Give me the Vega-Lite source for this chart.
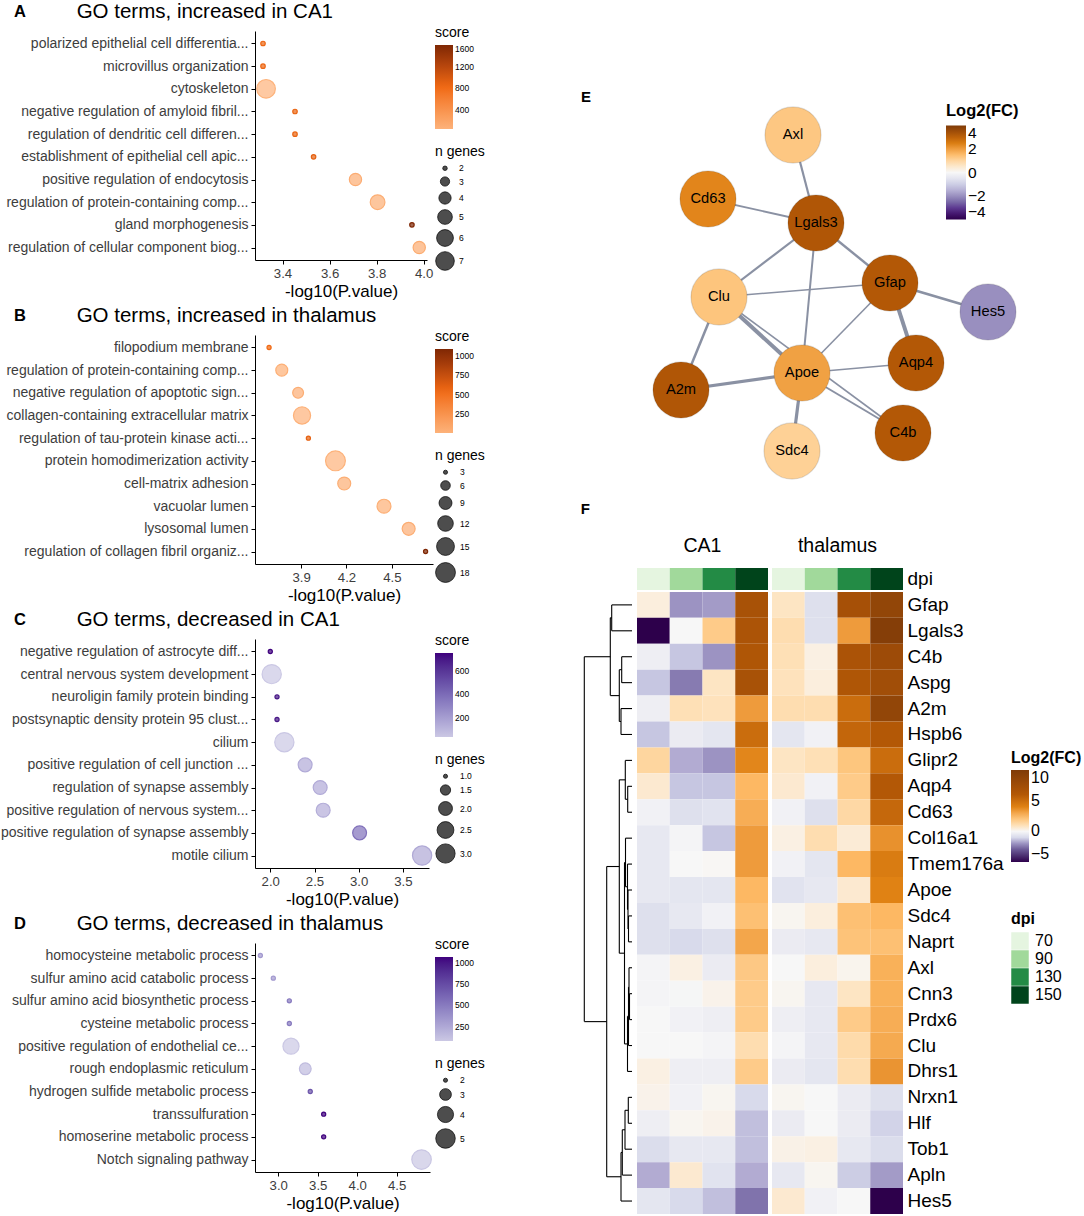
{
  "$schema": "https://vega.github.io/schema/vega-lite/v6.json",
  "padding": {"left": 0, "top": 2, "right": 0, "bottom": 0},
  "background": "white",
  "datasets": {
    "goA": [
      {"term": "polarized epithelial cell differentia...", "logp": 3.317, "n": 2, "score": 850},
      {"term": "microvillus organization", "logp": 3.317, "n": 2, "score": 850},
      {"term": "cytoskeleton", "logp": 3.33, "n": 7, "score": 44},
      {"term": "negative regulation of amyloid fibril...", "logp": 3.453, "n": 2, "score": 870},
      {"term": "regulation of dendritic cell differen...", "logp": 3.453, "n": 2, "score": 870},
      {"term": "establishment of epithelial cell apic...", "logp": 3.532, "n": 2, "score": 900},
      {"term": "positive regulation of endocytosis", "logp": 3.71, "n": 4, "score": 110},
      {"term": "regulation of protein-containing comp...", "logp": 3.804, "n": 5, "score": 90},
      {"term": "gland morphogenesis", "logp": 3.95, "n": 2, "score": 1600},
      {"term": "regulation of cellular component biog...", "logp": 3.981, "n": 4, "score": 130}
    ],
    "goB": [
      {"term": "filopodium membrane", "logp": 3.688, "n": 3, "score": 550},
      {"term": "regulation of protein-containing comp...", "logp": 3.772, "n": 8, "score": 40},
      {"term": "negative regulation of apoptotic sign...", "logp": 3.88, "n": 7, "score": 50},
      {"term": "collagen-containing extracellular matrix", "logp": 3.906, "n": 14, "score": 20},
      {"term": "regulation of tau-protein kinase acti...", "logp": 3.948, "n": 3, "score": 600},
      {"term": "protein homodimerization activity", "logp": 4.127, "n": 18, "score": 13},
      {"term": "cell-matrix adhesion", "logp": 4.185, "n": 9, "score": 45},
      {"term": "vacuolar lumen", "logp": 4.448, "n": 10, "score": 40},
      {"term": "lysosomal lumen", "logp": 4.611, "n": 9, "score": 50},
      {"term": "regulation of collagen fibril organiz...", "logp": 4.723, "n": 3, "score": 1085}
    ],
    "goC": [
      {"term": "negative regulation of astrocyte diff...", "logp": 2.0, "n": 1, "score": 751},
      {"term": "central nervous system development", "logp": 2.016, "n": 3, "score": 36},
      {"term": "neuroligin family protein binding", "logp": 2.076, "n": 1, "score": 700},
      {"term": "postsynaptic density protein 95 clust...", "logp": 2.076, "n": 1, "score": 700},
      {"term": "cilium", "logp": 2.159, "n": 3, "score": 40},
      {"term": "positive regulation of cell junction ...", "logp": 2.394, "n": 2, "score": 150},
      {"term": "regulation of synapse assembly", "logp": 2.564, "n": 2, "score": 150},
      {"term": "positive regulation of nervous system...", "logp": 2.598, "n": 2, "score": 140},
      {"term": "positive regulation of synapse assembly", "logp": 3.01, "n": 2, "score": 380},
      {"term": "motile cilium", "logp": 3.717, "n": 3, "score": 160}
    ],
    "goD": [
      {"term": "homocysteine metabolic process", "logp": 2.773, "n": 2, "score": 330},
      {"term": "sulfur amino acid catabolic process", "logp": 2.937, "n": 2, "score": 330},
      {"term": "sulfur amino acid biosynthetic process", "logp": 3.14, "n": 2, "score": 500},
      {"term": "cysteine metabolic process", "logp": 3.14, "n": 2, "score": 500},
      {"term": "positive regulation of endothelial ce...", "logp": 3.161, "n": 4, "score": 80},
      {"term": "rough endoplasmic reticulum", "logp": 3.342, "n": 3, "score": 150},
      {"term": "hydrogen sulfide metabolic process", "logp": 3.405, "n": 2, "score": 700},
      {"term": "transsulfuration", "logp": 3.575, "n": 2, "score": 1071},
      {"term": "homoserine metabolic process", "logp": 3.575, "n": 2, "score": 1071},
      {"term": "Notch signaling pathway", "logp": 4.815, "n": 5, "score": 90}
    ],
    "nodes": [
      {"id": "Axl", "x": 2.05, "y": 3.48, "fc": 1.3},
      {"id": "Cd63", "x": 1.2, "y": 2.84, "fc": 2.35},
      {"id": "Lgals3", "x": 2.28, "y": 2.6, "fc": 3.25},
      {"id": "Gfap", "x": 3.02, "y": 2.0, "fc": 3.2},
      {"id": "Clu", "x": 1.31, "y": 1.86, "fc": 1.35},
      {"id": "Hes5", "x": 4.0, "y": 1.71, "fc": -2.0},
      {"id": "Aqp4", "x": 3.28, "y": 1.2, "fc": 3.2},
      {"id": "Apoe", "x": 2.14, "y": 1.1, "fc": 1.95},
      {"id": "A2m", "x": 0.93, "y": 0.93, "fc": 3.25},
      {"id": "C4b", "x": 3.15, "y": 0.5, "fc": 3.2},
      {"id": "Sdc4", "x": 2.04, "y": 0.32, "fc": 1.1}
    ],
    "edges": [
      {"source": "Axl", "target": "Lgals3", "w": 2.2},
      {"source": "Cd63", "target": "Lgals3", "w": 1.8},
      {"source": "Lgals3", "target": "Clu", "w": 2.2},
      {"source": "Lgals3", "target": "Apoe", "w": 2.0},
      {"source": "Lgals3", "target": "Gfap", "w": 2.4},
      {"source": "Clu", "target": "Gfap", "w": 1.6},
      {"source": "Clu", "target": "Apoe", "w": 4.0},
      {"source": "Clu", "target": "C4b", "w": 1.6},
      {"source": "Clu", "target": "A2m", "w": 2.5},
      {"source": "A2m", "target": "Apoe", "w": 3.2},
      {"source": "Apoe", "target": "Gfap", "w": 1.6},
      {"source": "Apoe", "target": "Aqp4", "w": 1.4},
      {"source": "Apoe", "target": "C4b", "w": 2.0},
      {"source": "Apoe", "target": "Sdc4", "w": 3.2},
      {"source": "Gfap", "target": "Aqp4", "w": 4.0},
      {"source": "Gfap", "target": "Hes5", "w": 2.8}
    ],
    "dendro": [
      {"h1": 0, "h2": 20.3, "p1": 0, "p2": 0}, {"h1": 0, "h2": 20.3, "p1": 1, "p2": 1}, {"h1": 20.3, "h2": 20.3, "p1": 0, "p2": 1},
      {"h1": 0, "h2": 10.3, "p1": 2, "p2": 2}, {"h1": 0, "h2": 10.3, "p1": 3, "p2": 3}, {"h1": 10.3, "h2": 10.3, "p1": 2, "p2": 3},
      {"h1": 0, "h2": 11, "p1": 4, "p2": 4}, {"h1": 0, "h2": 11, "p1": 5, "p2": 5}, {"h1": 11, "h2": 11, "p1": 4, "p2": 5},
      {"h1": 10.3, "h2": 12.7, "p1": 2.5, "p2": 2.5}, {"h1": 11, "h2": 12.7, "p1": 4.5, "p2": 4.5}, {"h1": 12.7, "h2": 12.7, "p1": 2.5, "p2": 4.5},
      {"h1": 20.3, "h2": 21.7, "p1": 0.5, "p2": 0.5}, {"h1": 12.7, "h2": 21.7, "p1": 3.5, "p2": 3.5}, {"h1": 21.7, "h2": 21.7, "p1": 0.5, "p2": 3.5},
      {"h1": 0, "h2": 4.3, "p1": 7, "p2": 7}, {"h1": 0, "h2": 4.3, "p1": 8, "p2": 8}, {"h1": 4.3, "h2": 4.3, "p1": 7, "p2": 8},
      {"h1": 0, "h2": 6.7, "p1": 6, "p2": 6}, {"h1": 4.3, "h2": 6.7, "p1": 7.5, "p2": 7.5}, {"h1": 6.7, "h2": 6.7, "p1": 6, "p2": 7.5},
      {"h1": 0, "h2": 3.5, "p1": 12, "p2": 12}, {"h1": 0, "h2": 3.5, "p1": 13, "p2": 13}, {"h1": 3.5, "h2": 3.5, "p1": 12, "p2": 13},
      {"h1": 0, "h2": 4, "p1": 11, "p2": 11}, {"h1": 3.5, "h2": 4, "p1": 12.5, "p2": 12.5}, {"h1": 4, "h2": 4, "p1": 11, "p2": 12.5},
      {"h1": 0, "h2": 4.5, "p1": 10, "p2": 10}, {"h1": 4, "h2": 4.5, "p1": 11.75, "p2": 11.75}, {"h1": 4.5, "h2": 4.5, "p1": 10, "p2": 11.75},
      {"h1": 0, "h2": 6.5, "p1": 9, "p2": 9}, {"h1": 4.5, "h2": 6.5, "p1": 10.875, "p2": 10.875}, {"h1": 6.5, "h2": 6.5, "p1": 9, "p2": 10.875},
      {"h1": 0, "h2": 2.5, "p1": 15, "p2": 15}, {"h1": 0, "h2": 2.5, "p1": 16, "p2": 16}, {"h1": 2.5, "h2": 2.5, "p1": 15, "p2": 16},
      {"h1": 0, "h2": 3, "p1": 14, "p2": 14}, {"h1": 2.5, "h2": 3, "p1": 15.5, "p2": 15.5}, {"h1": 3, "h2": 3, "p1": 14, "p2": 15.5},
      {"h1": 3, "h2": 3.5, "p1": 14.75, "p2": 14.75}, {"h1": 0, "h2": 3.5, "p1": 17, "p2": 17}, {"h1": 3.5, "h2": 3.5, "p1": 14.75, "p2": 17},
      {"h1": 3.5, "h2": 4.5, "p1": 15.875, "p2": 15.875}, {"h1": 0, "h2": 4.5, "p1": 18, "p2": 18}, {"h1": 4.5, "h2": 4.5, "p1": 15.875, "p2": 18},
      {"h1": 6.5, "h2": 7.5, "p1": 9.938, "p2": 9.938}, {"h1": 4.5, "h2": 7.5, "p1": 16.938, "p2": 16.938}, {"h1": 7.5, "h2": 7.5, "p1": 9.938, "p2": 16.938},
      {"h1": 6.7, "h2": 12.7, "p1": 6.75, "p2": 6.75}, {"h1": 7.5, "h2": 12.7, "p1": 13.438, "p2": 13.438}, {"h1": 12.7, "h2": 12.7, "p1": 6.75, "p2": 13.438},
      {"h1": 0, "h2": 3.7, "p1": 19, "p2": 19}, {"h1": 0, "h2": 3.7, "p1": 20, "p2": 20}, {"h1": 3.7, "h2": 3.7, "p1": 19, "p2": 20},
      {"h1": 3.7, "h2": 7, "p1": 19.5, "p2": 19.5}, {"h1": 0, "h2": 7, "p1": 21, "p2": 21}, {"h1": 7, "h2": 7, "p1": 19.5, "p2": 21},
      {"h1": 7, "h2": 9.7, "p1": 20.25, "p2": 20.25}, {"h1": 0, "h2": 9.7, "p1": 22, "p2": 22}, {"h1": 9.7, "h2": 9.7, "p1": 20.25, "p2": 22},
      {"h1": 9.7, "h2": 11, "p1": 21.125, "p2": 21.125}, {"h1": 0, "h2": 11, "p1": 23, "p2": 23}, {"h1": 11, "h2": 11, "p1": 21.125, "p2": 23},
      {"h1": 12.7, "h2": 25.3, "p1": 10.094, "p2": 10.094}, {"h1": 11, "h2": 25.3, "p1": 22.063, "p2": 22.063}, {"h1": 25.3, "h2": 25.3, "p1": 10.094, "p2": 22.063},
      {"h1": 21.7, "h2": 47.7, "p1": 2, "p2": 2}, {"h1": 25.3, "h2": 47.7, "p1": 16.078, "p2": 16.078}, {"h1": 47.7, "h2": 47.7, "p1": 2, "p2": 16.078}
    ],
    "dpiAnno": [
      {"gene": "dpi", "dpi": 70}, {"gene": "dpi", "dpi": 90}, {"gene": "dpi", "dpi": 130}, {"gene": "dpi", "dpi": 150}
    ],
    "heat": [
      {"gene": "Gfap", "region": "CA1", "dpi": 70, "fc": 0.4}, {"gene": "Gfap", "region": "CA1", "dpi": 90, "fc": -2.0}, {"gene": "Gfap", "region": "CA1", "dpi": 130, "fc": -1.9}, {"gene": "Gfap", "region": "CA1", "dpi": 150, "fc": 6.8},
      {"gene": "Gfap", "region": "thalamus", "dpi": 70, "fc": 0.8}, {"gene": "Gfap", "region": "thalamus", "dpi": 90, "fc": -0.8}, {"gene": "Gfap", "region": "thalamus", "dpi": 130, "fc": 7.0}, {"gene": "Gfap", "region": "thalamus", "dpi": 150, "fc": 8.5},
      {"gene": "Lgals3", "region": "CA1", "dpi": 70, "fc": -5.0}, {"gene": "Lgals3", "region": "CA1", "dpi": 90, "fc": 0.0}, {"gene": "Lgals3", "region": "CA1", "dpi": 130, "fc": 1.8}, {"gene": "Lgals3", "region": "CA1", "dpi": 150, "fc": 6.5},
      {"gene": "Lgals3", "region": "thalamus", "dpi": 70, "fc": 1.1}, {"gene": "Lgals3", "region": "thalamus", "dpi": 90, "fc": -0.8}, {"gene": "Lgals3", "region": "thalamus", "dpi": 130, "fc": 3.3}, {"gene": "Lgals3", "region": "thalamus", "dpi": 150, "fc": 9.5},
      {"gene": "C4b", "region": "CA1", "dpi": 70, "fc": -0.3}, {"gene": "C4b", "region": "CA1", "dpi": 90, "fc": -1.3}, {"gene": "C4b", "region": "CA1", "dpi": 130, "fc": -2.0}, {"gene": "C4b", "region": "CA1", "dpi": 150, "fc": 6.3},
      {"gene": "C4b", "region": "thalamus", "dpi": 70, "fc": 1.0}, {"gene": "C4b", "region": "thalamus", "dpi": 90, "fc": 0.3}, {"gene": "C4b", "region": "thalamus", "dpi": 130, "fc": 6.6}, {"gene": "C4b", "region": "thalamus", "dpi": 150, "fc": 7.7},
      {"gene": "Aspg", "region": "CA1", "dpi": 70, "fc": -1.3}, {"gene": "Aspg", "region": "CA1", "dpi": 90, "fc": -2.3}, {"gene": "Aspg", "region": "CA1", "dpi": 130, "fc": 0.8}, {"gene": "Aspg", "region": "CA1", "dpi": 150, "fc": 6.8},
      {"gene": "Aspg", "region": "thalamus", "dpi": 70, "fc": 0.9}, {"gene": "Aspg", "region": "thalamus", "dpi": 90, "fc": 0.4}, {"gene": "Aspg", "region": "thalamus", "dpi": 130, "fc": 6.3}, {"gene": "Aspg", "region": "thalamus", "dpi": 150, "fc": 7.4},
      {"gene": "A2m", "region": "CA1", "dpi": 70, "fc": -0.3}, {"gene": "A2m", "region": "CA1", "dpi": 90, "fc": 1.0}, {"gene": "A2m", "region": "CA1", "dpi": 130, "fc": 0.9}, {"gene": "A2m", "region": "CA1", "dpi": 150, "fc": 3.3},
      {"gene": "A2m", "region": "thalamus", "dpi": 70, "fc": 1.1}, {"gene": "A2m", "region": "thalamus", "dpi": 90, "fc": 1.1}, {"gene": "A2m", "region": "thalamus", "dpi": 130, "fc": 5.0}, {"gene": "A2m", "region": "thalamus", "dpi": 150, "fc": 8.5},
      {"gene": "Hspb6", "region": "CA1", "dpi": 70, "fc": -1.3}, {"gene": "Hspb6", "region": "CA1", "dpi": 90, "fc": -0.4}, {"gene": "Hspb6", "region": "CA1", "dpi": 130, "fc": -0.6}, {"gene": "Hspb6", "region": "CA1", "dpi": 150, "fc": 5.0},
      {"gene": "Hspb6", "region": "thalamus", "dpi": 70, "fc": -0.6}, {"gene": "Hspb6", "region": "thalamus", "dpi": 90, "fc": -0.2}, {"gene": "Hspb6", "region": "thalamus", "dpi": 130, "fc": 5.3}, {"gene": "Hspb6", "region": "thalamus", "dpi": 150, "fc": 6.0},
      {"gene": "Glipr2", "region": "CA1", "dpi": 70, "fc": 1.4}, {"gene": "Glipr2", "region": "CA1", "dpi": 90, "fc": -1.7}, {"gene": "Glipr2", "region": "CA1", "dpi": 130, "fc": -2.0}, {"gene": "Glipr2", "region": "CA1", "dpi": 150, "fc": 3.9},
      {"gene": "Glipr2", "region": "thalamus", "dpi": 70, "fc": 0.8}, {"gene": "Glipr2", "region": "thalamus", "dpi": 90, "fc": 1.0}, {"gene": "Glipr2", "region": "thalamus", "dpi": 130, "fc": 2.0}, {"gene": "Glipr2", "region": "thalamus", "dpi": 150, "fc": 5.0},
      {"gene": "Aqp4", "region": "CA1", "dpi": 70, "fc": 0.6}, {"gene": "Aqp4", "region": "CA1", "dpi": 90, "fc": -1.3}, {"gene": "Aqp4", "region": "CA1", "dpi": 130, "fc": -1.3}, {"gene": "Aqp4", "region": "CA1", "dpi": 150, "fc": 2.5},
      {"gene": "Aqp4", "region": "thalamus", "dpi": 70, "fc": 0.6}, {"gene": "Aqp4", "region": "thalamus", "dpi": 90, "fc": -0.2}, {"gene": "Aqp4", "region": "thalamus", "dpi": 130, "fc": 1.8}, {"gene": "Aqp4", "region": "thalamus", "dpi": 150, "fc": 6.0},
      {"gene": "Cd63", "region": "CA1", "dpi": 70, "fc": -0.2}, {"gene": "Cd63", "region": "CA1", "dpi": 90, "fc": -0.8}, {"gene": "Cd63", "region": "CA1", "dpi": 130, "fc": -0.7}, {"gene": "Cd63", "region": "CA1", "dpi": 150, "fc": 2.8},
      {"gene": "Cd63", "region": "thalamus", "dpi": 70, "fc": -0.2}, {"gene": "Cd63", "region": "thalamus", "dpi": 90, "fc": -0.8}, {"gene": "Cd63", "region": "thalamus", "dpi": 130, "fc": 1.3}, {"gene": "Cd63", "region": "thalamus", "dpi": 150, "fc": 5.2},
      {"gene": "Col16a1", "region": "CA1", "dpi": 70, "fc": -0.5}, {"gene": "Col16a1", "region": "CA1", "dpi": 90, "fc": -0.1}, {"gene": "Col16a1", "region": "CA1", "dpi": 130, "fc": -1.3}, {"gene": "Col16a1", "region": "CA1", "dpi": 150, "fc": 3.3},
      {"gene": "Col16a1", "region": "thalamus", "dpi": 70, "fc": 0.3}, {"gene": "Col16a1", "region": "thalamus", "dpi": 90, "fc": 1.1}, {"gene": "Col16a1", "region": "thalamus", "dpi": 130, "fc": 0.5}, {"gene": "Col16a1", "region": "thalamus", "dpi": 150, "fc": 3.6},
      {"gene": "Tmem176a", "region": "CA1", "dpi": 70, "fc": -0.5}, {"gene": "Tmem176a", "region": "CA1", "dpi": 90, "fc": 0.0}, {"gene": "Tmem176a", "region": "CA1", "dpi": 130, "fc": 0.05}, {"gene": "Tmem176a", "region": "CA1", "dpi": 150, "fc": 3.3},
      {"gene": "Tmem176a", "region": "thalamus", "dpi": 70, "fc": -0.2}, {"gene": "Tmem176a", "region": "thalamus", "dpi": 90, "fc": -0.6}, {"gene": "Tmem176a", "region": "thalamus", "dpi": 130, "fc": 2.5}, {"gene": "Tmem176a", "region": "thalamus", "dpi": 150, "fc": 4.3},
      {"gene": "Apoe", "region": "CA1", "dpi": 70, "fc": -0.5}, {"gene": "Apoe", "region": "CA1", "dpi": 90, "fc": -0.6}, {"gene": "Apoe", "region": "CA1", "dpi": 130, "fc": -0.6}, {"gene": "Apoe", "region": "CA1", "dpi": 150, "fc": 2.5},
      {"gene": "Apoe", "region": "thalamus", "dpi": 70, "fc": -0.7}, {"gene": "Apoe", "region": "thalamus", "dpi": 90, "fc": -0.5}, {"gene": "Apoe", "region": "thalamus", "dpi": 130, "fc": 0.6}, {"gene": "Apoe", "region": "thalamus", "dpi": 150, "fc": 4.0},
      {"gene": "Sdc4", "region": "CA1", "dpi": 70, "fc": -0.8}, {"gene": "Sdc4", "region": "CA1", "dpi": 90, "fc": -0.5}, {"gene": "Sdc4", "region": "CA1", "dpi": 130, "fc": -0.2}, {"gene": "Sdc4", "region": "CA1", "dpi": 150, "fc": 2.2},
      {"gene": "Sdc4", "region": "thalamus", "dpi": 70, "fc": 0.1}, {"gene": "Sdc4", "region": "thalamus", "dpi": 90, "fc": 0.4}, {"gene": "Sdc4", "region": "thalamus", "dpi": 130, "fc": 2.2}, {"gene": "Sdc4", "region": "thalamus", "dpi": 150, "fc": 2.5},
      {"gene": "Naprt", "region": "CA1", "dpi": 70, "fc": -0.8}, {"gene": "Naprt", "region": "CA1", "dpi": 90, "fc": -1.0}, {"gene": "Naprt", "region": "CA1", "dpi": 130, "fc": -0.8}, {"gene": "Naprt", "region": "CA1", "dpi": 150, "fc": 3.0},
      {"gene": "Naprt", "region": "thalamus", "dpi": 70, "fc": -0.4}, {"gene": "Naprt", "region": "thalamus", "dpi": 90, "fc": -0.5}, {"gene": "Naprt", "region": "thalamus", "dpi": 130, "fc": 2.1}, {"gene": "Naprt", "region": "thalamus", "dpi": 150, "fc": 2.2},
      {"gene": "Axl", "region": "CA1", "dpi": 70, "fc": -0.1}, {"gene": "Axl", "region": "CA1", "dpi": 90, "fc": 0.3}, {"gene": "Axl", "region": "CA1", "dpi": 130, "fc": -0.4}, {"gene": "Axl", "region": "CA1", "dpi": 150, "fc": 1.9},
      {"gene": "Axl", "region": "thalamus", "dpi": 70, "fc": 0.0}, {"gene": "Axl", "region": "thalamus", "dpi": 90, "fc": 0.4}, {"gene": "Axl", "region": "thalamus", "dpi": 130, "fc": 0.15}, {"gene": "Axl", "region": "thalamus", "dpi": 150, "fc": 2.7},
      {"gene": "Cnn3", "region": "CA1", "dpi": 70, "fc": -0.1}, {"gene": "Cnn3", "region": "CA1", "dpi": 90, "fc": -0.05}, {"gene": "Cnn3", "region": "CA1", "dpi": 130, "fc": 0.2}, {"gene": "Cnn3", "region": "CA1", "dpi": 150, "fc": 1.8},
      {"gene": "Cnn3", "region": "thalamus", "dpi": 70, "fc": 0.1}, {"gene": "Cnn3", "region": "thalamus", "dpi": 90, "fc": -0.5}, {"gene": "Cnn3", "region": "thalamus", "dpi": 130, "fc": 0.8}, {"gene": "Cnn3", "region": "thalamus", "dpi": 150, "fc": 2.7},
      {"gene": "Prdx6", "region": "CA1", "dpi": 70, "fc": 0.0}, {"gene": "Prdx6", "region": "CA1", "dpi": 90, "fc": -0.2}, {"gene": "Prdx6", "region": "CA1", "dpi": 130, "fc": -0.3}, {"gene": "Prdx6", "region": "CA1", "dpi": 150, "fc": 1.8},
      {"gene": "Prdx6", "region": "thalamus", "dpi": 70, "fc": -0.3}, {"gene": "Prdx6", "region": "thalamus", "dpi": 90, "fc": -0.5}, {"gene": "Prdx6", "region": "thalamus", "dpi": 130, "fc": 1.8}, {"gene": "Prdx6", "region": "thalamus", "dpi": 150, "fc": 2.8},
      {"gene": "Clu", "region": "CA1", "dpi": 70, "fc": 0.0}, {"gene": "Clu", "region": "CA1", "dpi": 90, "fc": 0.0}, {"gene": "Clu", "region": "CA1", "dpi": 130, "fc": -0.1}, {"gene": "Clu", "region": "CA1", "dpi": 150, "fc": 1.1},
      {"gene": "Clu", "region": "thalamus", "dpi": 70, "fc": -0.1}, {"gene": "Clu", "region": "thalamus", "dpi": 90, "fc": -0.5}, {"gene": "Clu", "region": "thalamus", "dpi": 130, "fc": 1.2}, {"gene": "Clu", "region": "thalamus", "dpi": 150, "fc": 2.9},
      {"gene": "Dhrs1", "region": "CA1", "dpi": 70, "fc": 0.3}, {"gene": "Dhrs1", "region": "CA1", "dpi": 90, "fc": -0.3}, {"gene": "Dhrs1", "region": "CA1", "dpi": 130, "fc": -0.3}, {"gene": "Dhrs1", "region": "CA1", "dpi": 150, "fc": 1.8},
      {"gene": "Dhrs1", "region": "thalamus", "dpi": 70, "fc": -0.4}, {"gene": "Dhrs1", "region": "thalamus", "dpi": 90, "fc": -0.6}, {"gene": "Dhrs1", "region": "thalamus", "dpi": 130, "fc": 1.1}, {"gene": "Dhrs1", "region": "thalamus", "dpi": 150, "fc": 3.5},
      {"gene": "Nrxn1", "region": "CA1", "dpi": 70, "fc": 0.2}, {"gene": "Nrxn1", "region": "CA1", "dpi": 90, "fc": -0.2}, {"gene": "Nrxn1", "region": "CA1", "dpi": 130, "fc": 0.1}, {"gene": "Nrxn1", "region": "CA1", "dpi": 150, "fc": -1.0},
      {"gene": "Nrxn1", "region": "thalamus", "dpi": 70, "fc": 0.1}, {"gene": "Nrxn1", "region": "thalamus", "dpi": 90, "fc": 0.0}, {"gene": "Nrxn1", "region": "thalamus", "dpi": 130, "fc": -0.4}, {"gene": "Nrxn1", "region": "thalamus", "dpi": 150, "fc": -0.8},
      {"gene": "Hlf", "region": "CA1", "dpi": 70, "fc": -0.3}, {"gene": "Hlf", "region": "CA1", "dpi": 90, "fc": 0.1}, {"gene": "Hlf", "region": "CA1", "dpi": 130, "fc": 0.2}, {"gene": "Hlf", "region": "CA1", "dpi": 150, "fc": -1.4},
      {"gene": "Hlf", "region": "thalamus", "dpi": 70, "fc": -0.4}, {"gene": "Hlf", "region": "thalamus", "dpi": 90, "fc": 0.0}, {"gene": "Hlf", "region": "thalamus", "dpi": 130, "fc": -0.4}, {"gene": "Hlf", "region": "thalamus", "dpi": 150, "fc": -1.1},
      {"gene": "Tob1", "region": "CA1", "dpi": 70, "fc": -0.9}, {"gene": "Tob1", "region": "CA1", "dpi": 90, "fc": -0.5}, {"gene": "Tob1", "region": "CA1", "dpi": 130, "fc": -0.5}, {"gene": "Tob1", "region": "CA1", "dpi": 150, "fc": -1.4},
      {"gene": "Tob1", "region": "thalamus", "dpi": 70, "fc": 0.25}, {"gene": "Tob1", "region": "thalamus", "dpi": 90, "fc": 0.3}, {"gene": "Tob1", "region": "thalamus", "dpi": 130, "fc": -0.5}, {"gene": "Tob1", "region": "thalamus", "dpi": 150, "fc": -0.9},
      {"gene": "Apln", "region": "CA1", "dpi": 70, "fc": -1.7}, {"gene": "Apln", "region": "CA1", "dpi": 90, "fc": 0.6}, {"gene": "Apln", "region": "CA1", "dpi": 130, "fc": -0.7}, {"gene": "Apln", "region": "CA1", "dpi": 150, "fc": -1.7},
      {"gene": "Apln", "region": "thalamus", "dpi": 70, "fc": -0.5}, {"gene": "Apln", "region": "thalamus", "dpi": 90, "fc": 0.1}, {"gene": "Apln", "region": "thalamus", "dpi": 130, "fc": -1.2}, {"gene": "Apln", "region": "thalamus", "dpi": 150, "fc": -1.9},
      {"gene": "Hes5", "region": "CA1", "dpi": 70, "fc": -0.6}, {"gene": "Hes5", "region": "CA1", "dpi": 90, "fc": -1.0}, {"gene": "Hes5", "region": "CA1", "dpi": 130, "fc": -1.4}, {"gene": "Hes5", "region": "CA1", "dpi": 150, "fc": -2.4},
      {"gene": "Hes5", "region": "thalamus", "dpi": 70, "fc": 0.6}, {"gene": "Hes5", "region": "thalamus", "dpi": 90, "fc": -0.2}, {"gene": "Hes5", "region": "thalamus", "dpi": 130, "fc": 0.0}, {"gene": "Hes5", "region": "thalamus", "dpi": 150, "fc": -5.0}
    ]
  },
  "hconcat": [
    {
      "spacing": 6,
      "resolve": {"scale": {"fill": "independent", "stroke": "independent", "size": "independent"}, "legend": {"fill": "independent", "stroke": "independent", "size": "independent"}},
      "vconcat": [
        {
          "width": 172, "height": 229,
          "title": {"text": "A", "subtitle": "\u200b\u00a0\u00a0\u00a0\u00a0\u00a0\u00a0\u00a0\u00a0\u00a0\u00a0\u00a0GO terms, increased in CA1", "anchor": "start", "frame": "group", "dx": -241, "fontSize": 16.5, "fontWeight": "bold", "subtitleFontSize": 20.5, "subtitleColor": "black", "subtitleFont": "Liberation Sans", "subtitlePadding": -18, "offset": 2},
          "data": {"name": "goA"},
          "mark": {"type": "point", "filled": true, "opacity": 1, "fillOpacity": 0.7, "strokeOpacity": 1, "strokeWidth": 1.2},
          "encoding": {
            "y": {"field": "term", "type": "nominal", "sort": null, "scale": {"padding": 0.55}, "axis": {"title": null, "labelFontSize": 14, "labelColor": "#3d3d3d", "tickSize": 4, "labelPadding": 3, "labelLimit": 400}},
            "x": {"field": "logp", "type": "quantitative", "scale": {"domain": [3.283, 4.014], "nice": false, "zero": false}, "axis": {"values": [3.4, 3.6, 3.8, 4.0], "format": ".1f", "title": "-log10(P.value)", "titleFontSize": 17, "titleFontWeight": "normal", "titleColor": "black", "labelFontSize": 13.2, "labelColor": "#3d3d3d", "tickSize": 4, "labelPadding": 3, "titlePadding": 4}},
            "fill": {"field": "score", "type": "quantitative", "scale": {"domain": [44, 822, 1600], "range": ["#fdb27a", "#f16913", "#7f2704"]}, "legend": {"type": "gradient", "direction": "vertical", "title": "score", "orient": "none", "legendX": 180, "legendY": -5, "values": [400, 800, 1200, 1600], "format": "d", "gradientLength": 84, "gradientThickness": 18, "labelFontSize": 8.5, "titleFontSize": 14, "titleFontWeight": "normal", "titleColor": "black", "labelOverlap": false}},
            "stroke": {"field": "score", "type": "quantitative", "scale": {"domain": [43.9, 822.1, 1600.1], "range": ["#fdb27a", "#f16913", "#7f2704"]}, "legend": null},
            "size": {"field": "n", "type": "quantitative", "scale": {"domain": [2, 7], "range": [20, 346], "zero": false}, "legend": {"title": "n genes", "orient": "none", "legendX": 180, "legendY": 114, "values": [2, 3, 4, 5, 6, 7], "format": "d", "labelFontSize": 8.5, "titleFontSize": 14, "titleFontWeight": "normal", "titleColor": "black", "symbolFillColor": "#4d4d4d", "symbolStrokeColor": "#111111", "symbolStrokeWidth": 0.8}}
          }
        },
        {
          "width": 178, "height": 229,
          "title": {"text": "B", "subtitle": "\u200b\u00a0\u00a0\u00a0\u00a0\u00a0\u00a0\u00a0\u00a0\u00a0\u00a0\u00a0GO terms, increased in thalamus", "anchor": "start", "frame": "group", "dx": -241, "fontSize": 16.5, "fontWeight": "bold", "subtitleFontSize": 20.5, "subtitleColor": "black", "subtitleFont": "Liberation Sans", "subtitlePadding": -18, "offset": 2},
          "data": {"name": "goB"},
          "mark": {"type": "point", "filled": true, "opacity": 1, "fillOpacity": 0.7, "strokeOpacity": 1, "strokeWidth": 1.2},
          "encoding": {
            "y": {"field": "term", "type": "nominal", "sort": null, "scale": {"padding": 0.55}, "axis": {"title": null, "labelFontSize": 14, "labelColor": "#3d3d3d", "tickSize": 4, "labelPadding": 3, "labelLimit": 400}},
            "x": {"field": "logp", "type": "quantitative", "scale": {"domain": [3.595, 4.772], "nice": false, "zero": false}, "axis": {"values": [3.9, 4.2, 4.5], "format": ".1f", "title": "-log10(P.value)", "titleFontSize": 17, "titleFontWeight": "normal", "titleColor": "black", "labelFontSize": 13.2, "labelColor": "#3d3d3d", "tickSize": 4, "labelPadding": 3, "titlePadding": 4}},
            "fill": {"field": "score", "type": "quantitative", "scale": {"domain": [13, 549, 1085], "range": ["#fdb27a", "#f16913", "#7f2704"]}, "legend": {"type": "gradient", "direction": "vertical", "title": "score", "orient": "none", "legendX": 180, "legendY": -5, "values": [250, 500, 750, 1000], "format": "d", "gradientLength": 84, "gradientThickness": 18, "labelFontSize": 8.5, "titleFontSize": 14, "titleFontWeight": "normal", "titleColor": "black", "labelOverlap": false}},
            "stroke": {"field": "score", "type": "quantitative", "scale": {"domain": [12.9, 549.1, 1085.1], "range": ["#fdb27a", "#f16913", "#7f2704"]}, "legend": null},
            "size": {"field": "n", "type": "quantitative", "scale": {"domain": [3, 18], "range": [17, 394], "zero": false}, "legend": {"title": "n genes", "orient": "none", "legendX": 180, "legendY": 114, "values": [3, 6, 9, 12, 15, 18], "format": "d", "labelFontSize": 8.5, "titleFontSize": 14, "titleFontWeight": "normal", "titleColor": "black", "symbolFillColor": "#4d4d4d", "symbolStrokeColor": "#111111", "symbolStrokeWidth": 0.8}}
          }
        },
        {
          "width": 174, "height": 229,
          "title": {"text": "C", "subtitle": "\u200b\u00a0\u00a0\u00a0\u00a0\u00a0\u00a0\u00a0\u00a0\u00a0\u00a0\u00a0GO terms, decreased in CA1", "anchor": "start", "frame": "group", "dx": -241, "fontSize": 16.5, "fontWeight": "bold", "subtitleFontSize": 20.5, "subtitleColor": "black", "subtitleFont": "Liberation Sans", "subtitlePadding": -18, "offset": 2},
          "data": {"name": "goC"},
          "mark": {"type": "point", "filled": true, "opacity": 1, "fillOpacity": 0.7, "strokeOpacity": 1, "strokeWidth": 1.2},
          "encoding": {
            "y": {"field": "term", "type": "nominal", "sort": null, "scale": {"padding": 0.55}, "axis": {"title": null, "labelFontSize": 14, "labelColor": "#3d3d3d", "tickSize": 4, "labelPadding": 3, "labelLimit": 400}},
            "x": {"field": "logp", "type": "quantitative", "scale": {"domain": [1.827, 3.795], "nice": false, "zero": false}, "axis": {"values": [2.0, 2.5, 3.0, 3.5], "format": ".1f", "title": "-log10(P.value)", "titleFontSize": 17, "titleFontWeight": "normal", "titleColor": "black", "labelFontSize": 13.2, "labelColor": "#3d3d3d", "tickSize": 4, "labelPadding": 3, "titlePadding": 4}},
            "fill": {"field": "score", "type": "quantitative", "scale": {"domain": [36, 393, 751], "range": ["#cbc8e4", "#7d6db8", "#3f007d"]}, "legend": {"type": "gradient", "direction": "vertical", "title": "score", "orient": "none", "legendX": 180, "legendY": -5, "values": [200, 400, 600], "format": "d", "gradientLength": 84, "gradientThickness": 18, "labelFontSize": 8.5, "titleFontSize": 14, "titleFontWeight": "normal", "titleColor": "black", "labelOverlap": false}},
            "stroke": {"field": "score", "type": "quantitative", "scale": {"domain": [35.9, 393.1, 751.1], "range": ["#cbc8e4", "#7d6db8", "#3f007d"]}, "legend": null},
            "size": {"field": "n", "type": "quantitative", "scale": {"domain": [1, 3], "range": [17, 370], "zero": false}, "legend": {"title": "n genes", "orient": "none", "legendX": 180, "legendY": 114, "values": [1, 1.5, 2, 2.5, 3], "format": ".1f", "labelFontSize": 8.5, "titleFontSize": 14, "titleFontWeight": "normal", "titleColor": "black", "symbolFillColor": "#4d4d4d", "symbolStrokeColor": "#111111", "symbolStrokeWidth": 0.8}}
          }
        },
        {
          "width": 175, "height": 229,
          "title": {"text": "D", "subtitle": "\u200b\u00a0\u00a0\u00a0\u00a0\u00a0\u00a0\u00a0\u00a0\u00a0\u00a0\u00a0GO terms, decreased in thalamus", "anchor": "start", "frame": "group", "dx": -241, "fontSize": 16.5, "fontWeight": "bold", "subtitleFontSize": 20.5, "subtitleColor": "black", "subtitleFont": "Liberation Sans", "subtitlePadding": -18, "offset": 2},
          "data": {"name": "goD"},
          "mark": {"type": "point", "filled": true, "opacity": 1, "fillOpacity": 0.7, "strokeOpacity": 1, "strokeWidth": 1.2},
          "encoding": {
            "y": {"field": "term", "type": "nominal", "sort": null, "scale": {"padding": 0.55}, "axis": {"title": null, "labelFontSize": 14, "labelColor": "#3d3d3d", "tickSize": 4, "labelPadding": 3, "labelLimit": 400}},
            "x": {"field": "logp", "type": "quantitative", "scale": {"domain": [2.705, 4.922], "nice": false, "zero": false}, "axis": {"values": [3.0, 3.5, 4.0, 4.5], "format": ".1f", "title": "-log10(P.value)", "titleFontSize": 17, "titleFontWeight": "normal", "titleColor": "black", "labelFontSize": 13.2, "labelColor": "#3d3d3d", "tickSize": 4, "labelPadding": 3, "titlePadding": 4}},
            "fill": {"field": "score", "type": "quantitative", "scale": {"domain": [80, 575, 1071], "range": ["#cbc8e4", "#7d6db8", "#3f007d"]}, "legend": {"type": "gradient", "direction": "vertical", "title": "score", "orient": "none", "legendX": 180, "legendY": -5, "values": [250, 500, 750, 1000], "format": "d", "gradientLength": 84, "gradientThickness": 18, "labelFontSize": 8.5, "titleFontSize": 14, "titleFontWeight": "normal", "titleColor": "black", "labelOverlap": false}},
            "stroke": {"field": "score", "type": "quantitative", "scale": {"domain": [79.9, 575.1, 1071.1], "range": ["#cbc8e4", "#7d6db8", "#3f007d"]}, "legend": null},
            "size": {"field": "n", "type": "quantitative", "scale": {"domain": [2, 5], "range": [17, 380], "zero": false}, "legend": {"title": "n genes", "orient": "none", "legendX": 180, "legendY": 114, "values": [2, 3, 4, 5], "format": "d", "labelFontSize": 8.5, "titleFontSize": 14, "titleFontWeight": "normal", "titleColor": "black", "symbolFillColor": "#4d4d4d", "symbolStrokeColor": "#111111", "symbolStrokeWidth": 0.8}}
          }
        }
      ]
    },
    {
      "spacing": 18,
      "resolve": {"scale": {"fill": "independent", "stroke": "independent", "size": "independent", "strokeWidth": "independent"}, "legend": {"fill": "independent"}},
      "vconcat": [
        {
          "width": 452, "height": 452,
          "title": {"text": "E", "anchor": "start", "frame": "group", "dx": -3, "offset": -86, "baseline": "alphabetic", "fontSize": 15, "fontWeight": "bold"},
          "layer": [
            {
              "data": {"name": "edges"},
              "transform": [
                {"lookup": "source", "from": {"data": {"name": "nodes"}, "key": "id", "fields": ["x", "y"]}, "as": ["sx", "sy"]},
                {"lookup": "target", "from": {"data": {"name": "nodes"}, "key": "id", "fields": ["x", "y"]}, "as": ["tx", "ty"]}
              ],
              "mark": {"type": "rule", "color": "#8a91a3"},
              "encoding": {
                "x": {"field": "sx", "type": "quantitative", "scale": {"domain": [-0.04, 4.48], "nice": false, "zero": false}, "axis": null},
                "y": {"field": "sy", "type": "quantitative", "scale": {"domain": [0, 4.52], "nice": false, "zero": false}, "axis": null},
                "x2": {"field": "tx"},
                "y2": {"field": "ty"},
                "strokeWidth": {"field": "w", "type": "quantitative", "scale": {"domain": [1, 4], "range": [1, 4]}, "legend": null}
              }
            },
            {
              "data": {"name": "nodes"},
              "mark": {"type": "circle", "opacity": 1, "stroke": "#000000", "strokeOpacity": 0.12, "strokeWidth": 1.2},
              "encoding": {
                "x": {"field": "x", "type": "quantitative", "scale": {"domain": [-0.04, 4.48], "nice": false, "zero": false}, "axis": null},
                "y": {"field": "y", "type": "quantitative", "scale": {"domain": [0, 4.52], "nice": false, "zero": false}, "axis": null},
                "size": {"value": 3150},
                "fill": {"field": "fc", "type": "quantitative",
                  "scale": {"domain": [-4, -3.2, -2.4, -1.6, -0.8, 0, 0.8, 1.6, 2.4, 3.2, 4], "range": ["#2d004b", "#542788", "#8073ac", "#b2abd2", "#d8daeb", "#f7f7f7", "#fee0b6", "#fdb863", "#e08214", "#b35806", "#7f3b08"]},
                  "legend": {"title": "Log2(FC)", "orient": "none", "legendX": 362, "legendY": 72, "gradientLength": 94, "gradientThickness": 20, "values": [4, 2, 0, -2, -4], "labelFontSize": 15.5, "labelColor": "black", "titleFontSize": 16.5, "titleFontWeight": "bold", "titleColor": "black", "labelOverlap": false, "titlePadding": 6}}
              }
            },
            {
              "data": {"name": "nodes"},
              "mark": {"type": "text", "fontSize": 14.7, "color": "black"},
              "encoding": {
                "x": {"field": "x", "type": "quantitative"},
                "y": {"field": "y", "type": "quantitative"},
                "text": {"field": "id"}
              }
            }
          ]
        },
        {
          "title": {"text": "F", "anchor": "start", "dx": -3, "fontSize": 15, "fontWeight": "bold", "baseline": "alphabetic", "offset": 7},
          "spacing": 4,
          "resolve": {"scale": {"fill": "independent"}, "legend": {"fill": "independent"}},
          "hconcat": [
            {
              "width": 48, "height": 648,
              "title": {"text": "\u00a0", "fontSize": 19.5, "fontWeight": "normal", "baseline": "alphabetic", "offset": -5},
              "data": {"name": "dendro"},
              "mark": {"type": "rule", "color": "black", "strokeWidth": 1.1},
              "encoding": {
                "x": {"field": "h1", "type": "quantitative", "scale": {"domain": [0, 48], "reverse": true, "nice": false, "zero": false}, "axis": null},
                "x2": {"field": "h2"},
                "y": {"field": "p1", "type": "quantitative", "scale": {"domain": [-1.5, 23.5], "reverse": true, "nice": false, "zero": false}, "axis": null},
                "y2": {"field": "p2"}
              }
            },
            {
              "width": 131, "height": 648,
              "title": {"text": "CA1", "anchor": "middle", "fontSize": 19.5, "fontWeight": "normal", "baseline": "alphabetic", "offset": -5},
              "resolve": {"scale": {"fill": "independent"}},
              "layer": [
                {
                  "data": {"name": "dpiAnno"},
                  "mark": {"type": "rect", "height": {"band": 0.85}},
                  "encoding": {
                    "x": {"field": "dpi", "type": "ordinal", "scale": {"domain": [70, 90, 130, 150], "paddingInner": 0, "paddingOuter": 0}, "axis": null},
                    "y": {"field": "gene", "type": "nominal", "scale": {"domain": ["dpi", "Gfap", "Lgals3", "C4b", "Aspg", "A2m", "Hspb6", "Glipr2", "Aqp4", "Cd63", "Col16a1", "Tmem176a", "Apoe", "Sdc4", "Naprt", "Axl", "Cnn3", "Prdx6", "Clu", "Dhrs1", "Nrxn1", "Hlf", "Tob1", "Apln", "Hes5"], "paddingInner": 0, "paddingOuter": 0}, "axis": null},
                    "fill": {"field": "dpi", "type": "ordinal", "scale": {"domain": [70, 90, 130, 150], "range": ["#e5f5e0", "#a1d99b", "#238b45", "#00441b"]}, "legend": null}
                  }
                },
                {
                  "data": {"name": "heat"},
                  "transform": [{"filter": "datum.region === 'CA1'"}],
                  "mark": {"type": "rect"},
                  "encoding": {
                    "x": {"field": "dpi", "type": "ordinal", "scale": {"domain": [70, 90, 130, 150], "paddingInner": 0, "paddingOuter": 0}, "axis": null},
                    "y": {"field": "gene", "type": "nominal", "scale": {"domain": ["dpi", "Gfap", "Lgals3", "C4b", "Aspg", "A2m", "Hspb6", "Glipr2", "Aqp4", "Cd63", "Col16a1", "Tmem176a", "Apoe", "Sdc4", "Naprt", "Axl", "Cnn3", "Prdx6", "Clu", "Dhrs1", "Nrxn1", "Hlf", "Tob1", "Apln", "Hes5"], "paddingInner": 0, "paddingOuter": 0}, "axis": null},
                    "fill": {"field": "fc", "type": "quantitative", "scale": {"domain": [-5, -2.4, -1.7, -1, 0, 1, 2.5, 4, 6, 10], "range": ["#2d004b", "#8073ac", "#b2abd2", "#d8daeb", "#f7f7f7", "#fee0b6", "#fdb863", "#e08214", "#b35806", "#7f3b08"]}, "legend": null}
                  }
                }
              ]
            },
            {
              "width": 131, "height": 648,
              "title": {"text": "thalamus", "anchor": "middle", "fontSize": 19.5, "fontWeight": "normal", "baseline": "alphabetic", "offset": -5},
              "resolve": {"scale": {"fill": "independent"}, "legend": {"fill": "independent"}},
              "layer": [
                {
                  "data": {"name": "dpiAnno"},
                  "mark": {"type": "rect", "height": {"band": 0.85}},
                  "encoding": {
                    "x": {"field": "dpi", "type": "ordinal", "scale": {"domain": [70, 90, 130, 150], "paddingInner": 0, "paddingOuter": 0}, "axis": null},
                    "y": {"field": "gene", "type": "nominal", "scale": {"domain": ["dpi", "Gfap", "Lgals3", "C4b", "Aspg", "A2m", "Hspb6", "Glipr2", "Aqp4", "Cd63", "Col16a1", "Tmem176a", "Apoe", "Sdc4", "Naprt", "Axl", "Cnn3", "Prdx6", "Clu", "Dhrs1", "Nrxn1", "Hlf", "Tob1", "Apln", "Hes5"], "paddingInner": 0, "paddingOuter": 0}, "axis": {"orient": "right", "title": null, "domain": false, "ticks": false, "labelFontSize": 19, "labelColor": "black", "labelPadding": 4}},
                    "fill": {"field": "dpi", "type": "ordinal", "scale": {"domain": [70, 90, 130, 150], "range": ["#e5f5e0", "#a1d99b", "#238b45", "#00441b"]}, "legend": {"title": "dpi", "orient": "none", "legendX": 239, "legendY": 345, "symbolType": "square", "symbolSize": 306, "symbolStrokeWidth": 0, "labelFontSize": 16, "labelColor": "black", "titleFontSize": 16, "titleFontWeight": "bold", "titleColor": "black", "rowPadding": 0, "labelOffset": 6}}
                  }
                },
                {
                  "data": {"name": "heat"},
                  "transform": [{"filter": "datum.region === 'thalamus'"}],
                  "mark": {"type": "rect"},
                  "encoding": {
                    "x": {"field": "dpi", "type": "ordinal", "scale": {"domain": [70, 90, 130, 150], "paddingInner": 0, "paddingOuter": 0}, "axis": null},
                    "y": {"field": "gene", "type": "nominal", "scale": {"domain": ["dpi", "Gfap", "Lgals3", "C4b", "Aspg", "A2m", "Hspb6", "Glipr2", "Aqp4", "Cd63", "Col16a1", "Tmem176a", "Apoe", "Sdc4", "Naprt", "Axl", "Cnn3", "Prdx6", "Clu", "Dhrs1", "Nrxn1", "Hlf", "Tob1", "Apln", "Hes5"], "paddingInner": 0, "paddingOuter": 0}, "axis": {"orient": "right", "title": null, "domain": false, "ticks": false, "labelFontSize": 19, "labelColor": "black", "labelPadding": 4}},
                    "fill": {"field": "fc", "type": "quantitative", "scale": {"domain": [-5, -2.4, -1.7, -1, 0, 1, 2.5, 4, 6, 10], "range": ["#2d004b", "#8073ac", "#b2abd2", "#d8daeb", "#f7f7f7", "#fee0b6", "#fdb863", "#e08214", "#b35806", "#7f3b08"]}, "legend": {"title": "Log2(FC)", "orient": "none", "legendX": 239, "legendY": 184, "gradientLength": 92, "gradientThickness": 18, "values": [10, 5, 0, -5], "labelFontSize": 16, "labelColor": "black", "titleFontSize": 16, "titleFontWeight": "bold", "titleColor": "black", "labelOverlap": false, "titlePadding": 4}}
                  }
                }
              ]
            }
          ]
        }
      ]
    }
  ],
  "spacing": 95,
  "resolve": {"scale": {"fill": "independent", "stroke": "independent", "size": "independent", "strokeWidth": "independent"}, "legend": {"fill": "independent", "stroke": "independent", "size": "independent"}},
  "config": {
    "font": "Liberation Sans",
    "view": {"stroke": null},
    "axis": {"grid": false, "domainColor": "black", "tickColor": "black", "labelFont": "Liberation Sans", "titleFont": "Liberation Sans"},
    "legend": {"labelFont": "Liberation Sans", "titleFont": "Liberation Sans"},
    "title": {"font": "Liberation Sans", "color": "black", "subtitleFont": "Liberation Sans"}
  }
}
